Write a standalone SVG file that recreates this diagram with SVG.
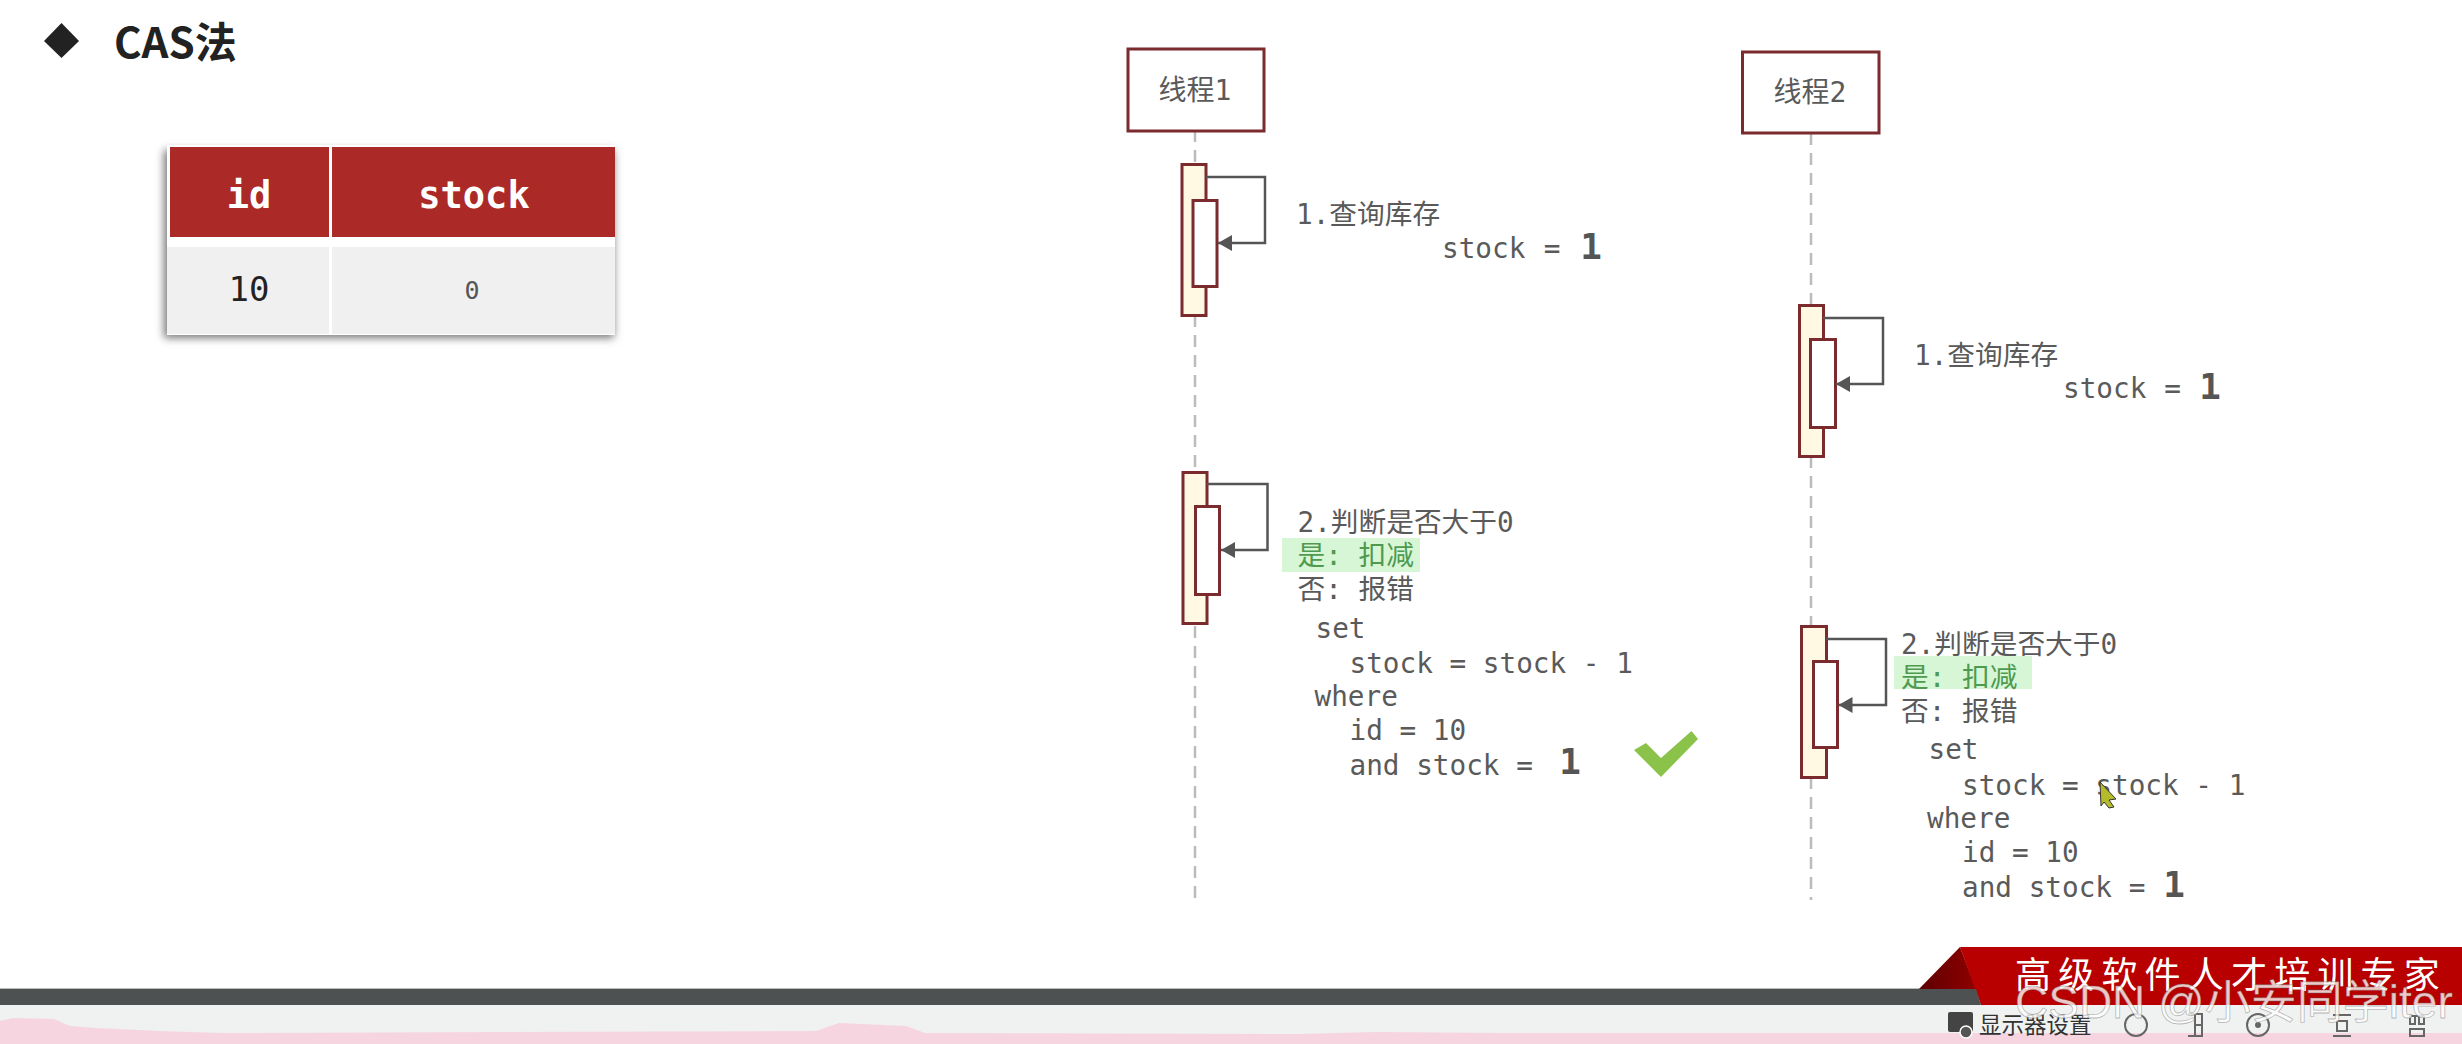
<svg xmlns="http://www.w3.org/2000/svg" width="2462" height="1044" viewBox="0 0 2462 1044">
<style>
.t{font-family:"DejaVu Sans Mono","Noto Sans CJK SC",monospace;font-size:27.7px;fill:#5a5a5a}
.b{font-family:"DejaVu Sans Mono",monospace;font-size:36px;font-weight:700;fill:#555;text-anchor:middle}
.box{fill:#fff;stroke:#7b2b2e;stroke-width:3}
.act{fill:#fff9e3;stroke:#7b2b2e;stroke-width:3}
.inner{fill:#fff;stroke:#7b2b2e;stroke-width:3}
.life{fill:none;stroke:#bbb;stroke-width:2.5;stroke-dasharray:12 8}
.msg{fill:none;stroke:#555;stroke-width:2.5;marker-end:url(#ah)}
.hl{fill:#d6f6d6}
.g{fill:#4f9a50}
.tb{fill:none;stroke:#666;stroke-width:2}
</style>
<defs>
<marker id="ah" markerUnits="userSpaceOnUse" markerWidth="15" markerHeight="16" refX="14" refY="8" orient="auto"><path d="M0 0L14 8L0 16Z" fill="#555"/></marker>
<filter id="sh" x="-10%" y="-10%" width="120%" height="120%"><feGaussianBlur stdDeviation="4"/></filter>
<linearGradient id="dk" x1="0" y1="0" x2="1" y2="0"><stop offset="0" stop-color="#5e0000"/><stop offset="1" stop-color="#8f0000"/></linearGradient>
</defs>
<rect width="2462" height="1044" fill="#fff"/>
<g id="title">
<path d="M61.500 23L79 41L61.500 58L44 41Z" fill="#222"/>
<text x="114" y="58" font-family="'Noto Sans CJK SC',sans-serif" font-size="42" font-weight="700" fill="#222">CAS法</text>
</g>
<g id="table">
<rect x="164" y="150" width="450" height="188" fill="#777" filter="url(#sh)"/>
<rect x="167" y="145" width="448" height="190" fill="#fff"/>
<rect x="170" y="147" width="159" height="90" fill="#ab2a27"/>
<rect x="332" y="147" width="283" height="90" fill="#ab2a27"/>
<rect x="167" y="247" width="162" height="87" fill="#f0f0f0"/>
<rect x="332" y="247" width="283" height="87" fill="#f0f0f0"/>
<text x="249" y="208" text-anchor="middle" font-family="'DejaVu Sans Mono',monospace" font-size="37" font-weight="700" fill="#fff">id</text>
<text x="474" y="208" text-anchor="middle" font-family="'DejaVu Sans Mono',monospace" font-size="37" font-weight="700" fill="#fff">stock</text>
<text x="249" y="301" text-anchor="middle" font-family="'DejaVu Sans Mono',monospace" font-size="34" fill="#222">10</text>
<text x="472" y="299" text-anchor="middle" font-family="'DejaVu Sans Mono',monospace" font-size="25" fill="#555">0</text>
</g>
<g id="connectors">
<path class="life" d="M1195 130V164M1195 315V472M1195 626V899"/>
<path class="life" d="M1811 133V305M1811 456V626M1811 777V900"/>
</g>
<g id="thread1">
<rect class="box" x="1128" y="49" width="136" height="82"/>
<text class="t" x="1195" y="100" text-anchor="middle" style="font-size:28px">线程1</text>
</g>
<g id="thread2">
<rect class="box" x="1742.500" y="52" width="136.500" height="81"/>
<text class="t" x="1810" y="102" text-anchor="middle" style="font-size:28px">线程2</text>
</g>
<g id="t1-query">
<rect class="act" x="1182" y="164.500" width="24" height="151"/>
<rect class="inner" x="1193" y="200.500" width="24" height="86"/>
<path class="msg" d="M1206 177H1265V243H1218"/>
<text class="t" x="1296" y="224">1.查询库存</text>
<text class="t" x="1442" y="258">stock</text>
<text class="t" x="1552" y="258" text-anchor="middle">=</text>
<text class="b" x="1591" y="259">1</text>
</g>
<g id="t1-update">
<rect class="act" x="1183" y="472.500" width="24" height="151"/>
<rect class="inner" x="1195.500" y="506.500" width="24" height="88"/>
<path class="msg" d="M1207 484H1267.500V550H1221"/>
<text class="t" x="1297.500" y="532">2.判断是否大于0</text>
<rect class="hl" x="1282" y="538" width="138" height="34"/>
<text class="t g" x="1297.500" y="565">是: 扣减</text>
<text class="t" x="1297.500" y="599">否: 报错</text>
<text class="t" x="1315.500" y="638">set</text>
<text class="t" x="1349.500" y="672.500">stock = stock - 1</text>
<text class="t" x="1314.500" y="705.500">where</text>
<text class="t" x="1349.500" y="739.500">id = 10</text>
<text class="t" x="1349.500" y="774.500">and stock =</text>
<text class="b" x="1570" y="774">1</text>
<path d="M1634 750L1646 743L1661 758L1691.500 731L1698 739L1661 777Z" fill="#8bc34a"/>
</g>
<g id="t2-query">
<rect class="act" x="1799.500" y="305.500" width="24" height="151"/>
<rect class="inner" x="1810.500" y="339.500" width="25" height="88"/>
<path class="msg" d="M1823 318H1883V384H1836"/>
<text class="t" x="1914" y="365">1.查询库存</text>
<text class="t" x="2063" y="398">stock</text>
<text class="t" x="2172.500" y="398" text-anchor="middle">=</text>
<text class="b" x="2210" y="399">1</text>
</g>
<g id="t2-update">
<rect class="act" x="1801.500" y="626.500" width="25" height="151"/>
<rect class="inner" x="1813.500" y="661.500" width="24" height="86"/>
<path class="msg" d="M1826 639H1886V705H1838.500"/>
<text class="t" x="1901" y="654">2.判断是否大于0</text>
<rect class="hl" x="1894" y="656" width="138" height="33"/>
<text class="t g" x="1901" y="687">是: 扣减</text>
<text class="t" x="1901" y="720.500">否: 报错</text>
<text class="t" x="1928.500" y="759">set</text>
<text class="t" x="1962" y="794.500">stock = stock - 1</text>
<text class="t" x="1927" y="827.500">where</text>
<text class="t" x="1962" y="861.500">id = 10</text>
<text class="t" x="1962" y="896.500">and stock =</text>
<text class="b" x="2174" y="897">1</text>
<path d="M2100 782L2116 799L2109 800L2114 807L2109 808L2104 802L2101 806Z" fill="#b5bb2a" stroke="#333" stroke-width="1"/>
</g>
<g id="footer">
<rect x="0" y="1005" width="2462" height="39" fill="#f0f1f1"/>
<path d="M0 1021L13 1018L54 1019L70 1026L96 1028L159 1031L223 1033L816 1031L839 1023L906 1026L925 1033L1300 1034L1376 1032L1500 1033L2462 1033V1044H0Z" fill="#f6d5e0"/>
<rect x="0" y="988" width="1981" height="1.500" fill="#bbb"/>
<path d="M1960 947L1919 989H1976Z" fill="url(#dk)"/>
<path d="M1960 947H2462V1005H1981Z" fill="#b80000"/>
<path d="M0 989H1976L1981 1005H0Z" fill="#4d5151"/>
<text x="2015" y="988" font-family="'Noto Sans CJK SC',sans-serif" font-size="36" letter-spacing="7.200" fill="#fff">高级软件人才培训专家</text>
<rect x="1948" y="1012" width="25" height="20" rx="2" fill="#444"/>
<circle cx="1966" cy="1032" r="6" fill="#555" stroke="#fff" stroke-width="1.500"/>
<text x="1979" y="1033" font-family="'Noto Sans CJK SC',sans-serif" font-size="22.500" fill="#333">显示器设置</text>
<circle class="tb" cx="2136" cy="1025" r="11"/>
<path class="tb" d="M2188 1014H2202V1036H2188M2195 1014V1036M2195 1025H2202"/>
<circle class="tb" cx="2258" cy="1025" r="11"/>
<circle cx="2258" cy="1025" r="3" fill="#666"/>
<path class="tb" d="M2333 1015H2351M2337 1021H2347V1031H2337ZM2333 1036H2351"/>
<path class="tb" d="M2410 1016H2424M2410 1016V1024H2415V1016M2419 1016V1024H2424V1016M2410 1029H2424V1036H2410Z"/>
<text x="2015" y="1018" font-family="'Liberation Sans','Noto Sans CJK SC',sans-serif" font-size="46" fill="#fff" fill-opacity=".78" stroke="#666" stroke-opacity=".45" stroke-width=".8">CSDN @小安同学iter</text>
</g>
</svg>
